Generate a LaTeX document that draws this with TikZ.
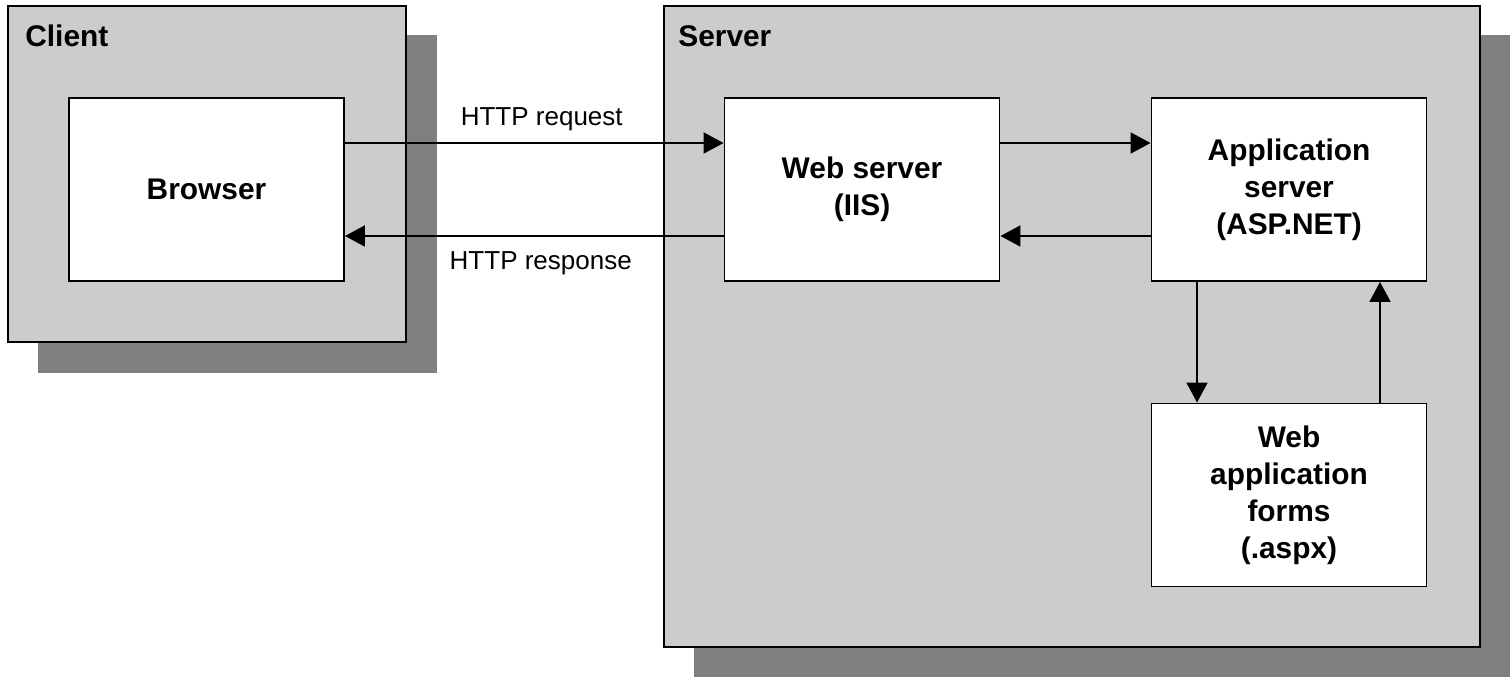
\documentclass[tikz,border=0pt]{standalone}
\usepackage{fontspec}
\setmainfont{Liberation Sans}
\usetikzlibrary{arrows.meta}
\definecolor{boxgray}{HTML}{CCCCCC}
\definecolor{shadowgray}{HTML}{808080}

\begin{document}
\begin{tikzpicture}[
        container/.style={rectangle, draw, line width=1.1pt, fill=boxgray, inner sep=0pt},
        block/.style={rectangle, draw, line width=1.1pt, fill=white, align=center, minimum width=5.5cm, minimum height=3.66cm, font=\fontsize{17}{21}\selectfont\bfseries},
        title/.style={anchor=base west, inner sep=0pt, font=\fontsize{17}{21}\selectfont\bfseries},
        flow/.style={line width=1.1pt, -{Triangle[length=0.4cm,width=0.42cm]}},
        edge_label/.style={font=\fontsize{14.8}{18}\selectfont, midway}
    ]
        \useasboundingbox (0,0) rectangle (30.2,13.54);

        % Client side
        \fill[shadowgray] (0.76,6.08) rectangle (8.74,12.84);
        \node[container, minimum width=7.96cm, minimum height=6.72cm] (client_box) at (4.14,10.06) {};
        \node[title] (client_title) at (0.5,12.6) {Client};
        \node[block] (browser) at (4.13,9.75) {Browser};

        % Server side
        \fill[shadowgray] (13.88,0) rectangle (30.2,12.84);
        \node[container, minimum width=16.32cm, minimum height=12.82cm] (server_box) at (21.44,7.01) {};
        \node[title] (server_title) at (13.56,12.6) {Server};
        \node[block] (web_server) at (17.24,9.75) {Web server\\(IIS)};
        \node[block] (app_server) at (25.78,9.75) {Application\\server\\(ASP.NET)};
        \node[block] (web_forms) at (25.78,3.64) {Web\\application\\forms\\(.aspx)};

        \draw[flow] ([yshift=0.93cm]browser.east) -- ([yshift=0.93cm]web_server.west) node[edge_label, above=3pt, xshift=0.15cm] {HTTP request};
        \draw[flow] ([yshift=-0.93cm]web_server.west) -- ([yshift=-0.93cm]browser.east) node[edge_label, below=5pt, xshift=0.13cm] {HTTP response};
        \draw[flow] ([yshift=0.93cm]web_server.east) -- ([yshift=0.93cm]app_server.west);
        \draw[flow] ([yshift=-0.93cm]app_server.west) -- ([yshift=-0.93cm]web_server.east);
        \draw[flow] ([xshift=-1.84cm]app_server.south) -- ([xshift=-1.84cm]web_forms.north);
        \draw[flow] ([xshift=1.82cm]web_forms.north) -- ([xshift=1.82cm]app_server.south);

    \end{tikzpicture}
\end{document}
